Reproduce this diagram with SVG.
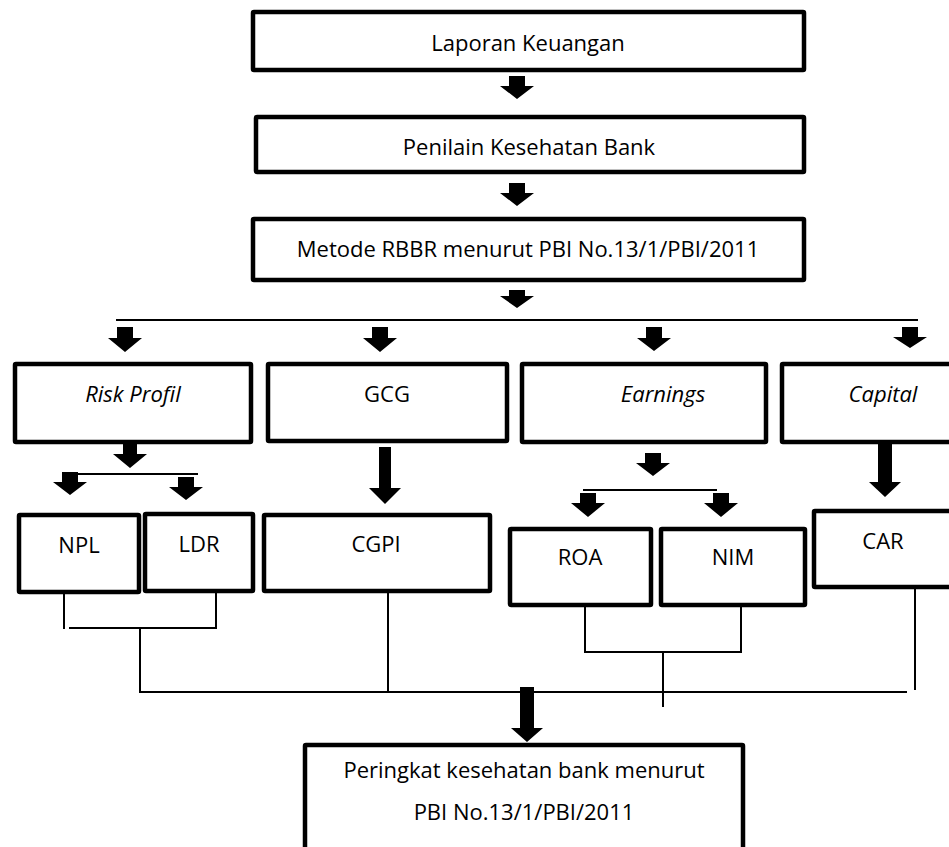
<svg xmlns="http://www.w3.org/2000/svg" width="949" height="847" viewBox="0 0 949 847">
<style>
.box{fill:#fff;stroke:#000;stroke-width:4.5}
.t{font-family:"Open Sans","Noto Sans",sans-serif;font-size:22px;fill:#000;text-anchor:middle}
.i{font-style:italic}
.ln{stroke:#000;stroke-width:2;fill:none}
.ar{fill:#000}
</style>
<rect width="949" height="847" fill="#fff"/>
<g id="connectors">
<polygon class="ar" points="509,76 525,76 525,86 534,86 517,99 500,86 509,86"/>
<polygon class="ar" points="509,183 525,183 525,193 534,193 517,206 500,193 509,193"/>
<polygon class="ar" points="509,290 525,290 525,296 534,296 517,308 500,296 509,296"/>
<line class="ln" x1="116" y1="320" x2="918" y2="320"/>
<polygon class="ar" points="117,327 133,327 133,338 142,338 125,352 108,338 117,338"/>
<polygon class="ar" points="372,327 388,327 388,338 397,338 380,352 363,338 372,338"/>
<polygon class="ar" points="646,327 662,327 662,338 671,338 654,351 637,338 646,338"/>
<polygon class="ar" points="902,327 918,327 918,337 927,337 910,348 893,337 902,337"/>
<polygon class="ar" points="123,444 137,444 137,454 147,454 130,468 113,454 123,454"/>
<line class="ln" x1="77" y1="474" x2="198" y2="474"/>
<polygon class="ar" points="62,472 78,472 78,482 87,482 70,495 53,482 62,482"/>
<polygon class="ar" points="178,477 194,477 194,487 203,487 186,500 169,487 178,487"/>
<polygon class="ar" points="379,447 391,447 391,488 401,488 385,504 369,488 379,488"/>
<polygon class="ar" points="645,453 661,453 661,463 670,463 653,476 636,463 645,463"/>
<line class="ln" x1="583" y1="490" x2="717" y2="490"/>
<polygon class="ar" points="580,493 596,493 596,503 605,503 588,517 571,503 580,503"/>
<polygon class="ar" points="713,493 729,493 729,503 738,503 721,517 704,503 713,503"/>
<polygon class="ar" points="878,444 892,444 892,482 901,482 885,497 869,482 878,482"/>
<line class="ln" x1="64" y1="594" x2="64" y2="629"/>
<line class="ln" x1="216" y1="593" x2="216" y2="629"/>
<line class="ln" x1="69" y1="628" x2="216" y2="628"/>
<line class="ln" x1="140" y1="628" x2="140" y2="692"/>
<line class="ln" x1="139" y1="692" x2="907" y2="692"/>
<line class="ln" x1="388" y1="593" x2="388" y2="692"/>
<line class="ln" x1="585" y1="607" x2="585" y2="652"/>
<line class="ln" x1="741" y1="607" x2="741" y2="652"/>
<line class="ln" x1="584" y1="652" x2="742" y2="652"/>
<line class="ln" x1="663" y1="652" x2="663" y2="707"/>
<line class="ln" x1="915" y1="589" x2="915" y2="690"/>
<polygon class="ar" points="520,687 534,687 534,728 543,728 527,742 511,728 520,728"/>
</g>
<g id="laporan">
<rect class="box" x="253" y="12" width="551" height="58" rx="1"/>
<text class="t" x="528" y="51">Laporan Keuangan</text>
</g>
<g id="penilaian">
<rect class="box" x="256" y="117" width="548" height="55" rx="1"/>
<text class="t" x="529" y="155">Penilain Kesehatan Bank</text>
</g>
<g id="metode">
<rect class="box" x="253" y="219" width="551" height="61" rx="1"/>
<text class="t" x="528" y="257">Metode RBBR menurut PBI No.13/1/PBI/2011</text>
</g>
<g id="risk">
<rect class="box" x="15" y="364" width="236" height="78" rx="1"/>
<text class="t i" x="133" y="402">Risk Profil</text>
</g>
<g id="gcg">
<rect class="box" x="268" y="364" width="239" height="77" rx="1"/>
<text class="t" x="387" y="402">GCG</text>
</g>
<g id="earnings">
<rect class="box" x="522" y="364" width="244" height="78" rx="1"/>
<text class="t i" x="663" y="402">Earnings</text>
</g>
<g id="capital">
<rect class="box" x="782" y="364" width="180" height="78" rx="1"/>
<text class="t i" x="883" y="402">Capital</text>
</g>
<g id="npl">
<rect class="box" x="19" y="515" width="120" height="77" rx="1"/>
<text class="t" x="79" y="553">NPL</text>
</g>
<g id="ldr">
<rect class="box" x="145" y="514" width="108" height="77" rx="1"/>
<text class="t" x="199" y="552">LDR</text>
</g>
<g id="cgpi">
<rect class="box" x="264" y="515" width="226" height="76" rx="1"/>
<text class="t" x="376" y="552">CGPI</text>
</g>
<g id="roa">
<rect class="box" x="510" y="529" width="141" height="76" rx="1"/>
<text class="t" x="580" y="565">ROA</text>
</g>
<g id="nim">
<rect class="box" x="661" y="529" width="144" height="76" rx="1"/>
<text class="t" x="733" y="565">NIM</text>
</g>
<g id="car">
<rect class="box" x="814" y="511" width="148" height="76" rx="1"/>
<text class="t" x="883" y="549">CAR</text>
</g>
<g id="peringkat">
<rect class="box" x="305" y="745" width="438" height="120" rx="1"/>
<text class="t" x="524" y="778">Peringkat kesehatan bank menurut</text>
<text class="t" x="524" y="820">PBI No.13/1/PBI/2011</text>
</g>
</svg>
